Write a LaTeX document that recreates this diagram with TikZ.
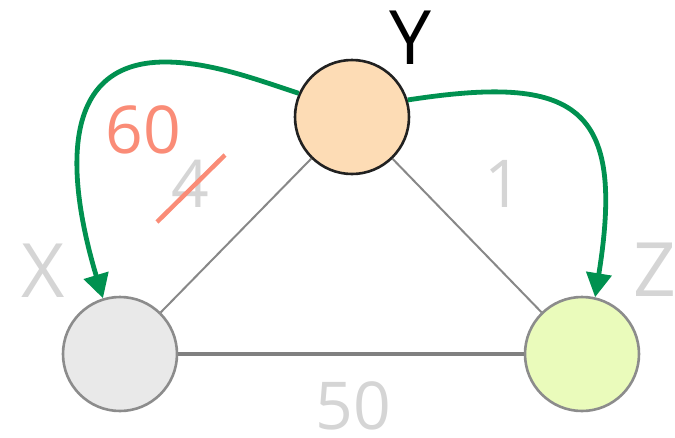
\documentclass[tikz,border=0pt]{standalone}
\usepackage{fontspec}
\setmainfont{Open Sans}
\usetikzlibrary{arrows.meta}
\definecolor{flowgreen}{HTML}{009150}
\definecolor{strikered}{HTML}{FA8C77}
\definecolor{faintgray}{HTML}{D5D5D5}
\definecolor{edgegray}{HTML}{888888}
\definecolor{rimgray}{HTML}{8C8C8C}
\definecolor{peach}{HTML}{FDDCB5}
\definecolor{lightgray}{HTML}{E9E9E9}
\definecolor{lime}{HTML}{EAFBBB}
\begin{document}
\begin{tikzpicture}[x=1pt,y=-1pt,
  vertex/.style={circle,minimum size=114pt,inner sep=0pt,line width=2.6pt},
  namelabel/.style={inner sep=0pt,font=\fontsize{75}{75}\selectfont},
  weight/.style={inner sep=0pt,font=\fontsize{66}{66}\selectfont,text=faintgray},
  link/.style={draw=edgegray,line width=2pt},
  flow/.style={draw=flowgreen,line width=4.8pt,-{Triangle[length=24pt,width=25pt]}}]
\useasboundingbox (0,0) rectangle (675,437);

% vertices
\node[vertex,draw=black!87,fill=peach] (Y) at (352,117) {};
\node[vertex,draw=rimgray,fill=lightgray] (X) at (120,354) {};
\node[vertex,draw=rimgray,fill=lime] (Z) at (582,354) {};

% vertex names
\node[namelabel,text=black] (yname) at (410,38) {Y};
\node[namelabel,text=faintgray] (xname) at (43,271) {X};
\node[namelabel,text=faintgray] (zname) at (655,270) {Z};

% edges
\draw[link] (Y) -- (X);
\draw[link] (Y) -- (Z);
\draw[link,line width=4.8pt,draw=black!50] (X) -- (Z);

% edge weights
\node[weight] (wyx) at (190,184) {4};
\node[weight] (wyz) at (503,184) {1};
\node[weight] (wxz) at (353,406) {50};
\node[weight,text=strikered] (wnew) at (143,130) {60};

% the old weight is struck out
\coordinate (s1) at (157,222);
\coordinate (s2) at (225,155);
\draw[strikered,line width=4.5pt] (s1) -- (s2);

% update arrows
\draw[flow] (Y.156) .. controls (255,79) and (210,62) .. (165,62)
  .. controls (50,62) and (72,195) .. (X.107);
\draw[flow] (Y.17) .. controls (576,74) and (626,105) .. (Z.77);
\end{tikzpicture}
\end{document}
